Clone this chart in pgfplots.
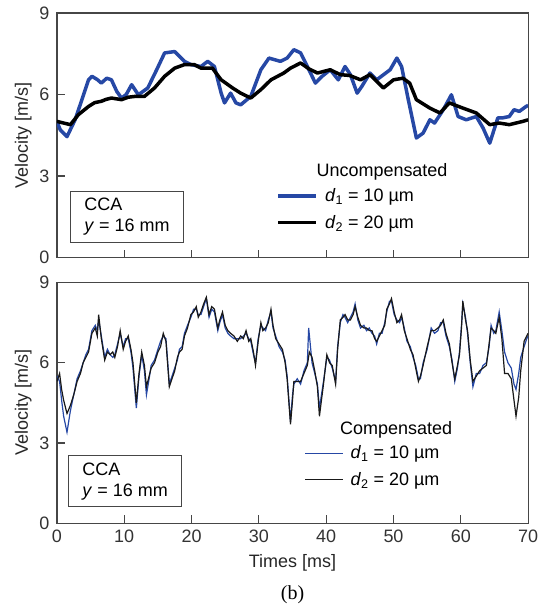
\documentclass[border=0pt]{standalone}
\usepackage{fontspec}
\setmainfont{Liberation Sans}
\newfontfamily\capfont{Liberation Serif}
\usepackage{pgfplots}
\pgfplotsset{compat=1.18}
\definecolor{dblue}{RGB}{38,72,165}
\definecolor{axgray}{RGB}{70,70,70}

\pgfplotsset{
  velax/.style={
    scale only axis, width=472pt,
    xmin=0, xmax=70, ymin=0, ymax=9,
    xtick={0,10,...,70}, ytick={0,3,6,9},
    xtick pos=bottom, ytick pos=left, tick align=inside,
    major tick length=8pt,
    axis line style={axgray, line width=1.2pt},
    tick style={axgray, line width=1.2pt},
    tick label style={font=\fontsize{18}{21}\selectfont, text=black!80},
    xticklabel style={yshift=-3pt},
    yticklabel style={xshift=-4pt},
    label style={font=\fontsize{18}{21}\selectfont, text=black!85},
    xlabel style={yshift=-5pt},
    ylabel style={yshift=1pt},
    /pgf/number format/assume math mode=true,
    ylabel={Velocity [m/s]},
    legend cell align=left,
    legend style={draw=none, fill=none, font=\fontsize{18}{21}\selectfont,
      row sep=8pt, column sep=5pt, inner sep=0pt},
    legend image code/.code={\draw[#1] (0pt,0pt) -- (38pt,0pt);},
  },
}

\begin{document}
\begin{tikzpicture}[font=\fontsize{18}{21}\selectfont]
% top: uncompensated
\begin{axis}[velax, name=top, height=245pt, at={(0,266pt)}, anchor=south west,
  xticklabels={},
  legend style={at={(rel axis cs:0.466,0.29)}, anchor=north west},
]
\addplot[dblue, line width=3.5pt, line join=round] coordinates {
(0,5.0) (0.5,4.7) (1.5,4.45) (2.7,5.07) (3.7,5.8) (4.7,6.54) (5.2,6.67) (6.0,6.55) (6.6,6.42) (7.4,6.6) (8.1,6.54) (8.9,6.11) (9.6,5.87) (10.3,6.0) (11.1,6.36) (12.1,5.99) (13.5,6.24) (14.8,6.9) (16.0,7.53) (17.5,7.58) (18.95,7.22) (19.9,7.10) (21.4,7.03) (22.4,7.22) (23.4,7.03) (24.4,6.05) (24.9,5.69) (25.8,6.05) (26.6,5.69) (27.3,5.62) (28.8,5.93) (30.3,6.91) (31.5,7.34) (33.2,7.22) (34.2,7.34) (35.2,7.65) (36.2,7.53) (37.2,7.03) (38.4,6.42) (39.4,6.67) (40.6,6.91) (41.8,6.54) (42.8,7.03) (43.6,6.73) (44.6,6.05) (45.3,6.30) (46.5,6.79) (47.5,6.54) (49.5,6.91) (50.5,7.34) (51.2,7.03) (52.2,5.81) (53.4,4.40) (54.4,4.58) (55.4,5.07) (56.1,4.95) (57.4,5.44) (58.6,5.99) (59.6,5.19) (60.8,5.07) (62.3,5.19) (63.3,4.77) (64.3,4.21) (65.5,5.14) (66.2,5.14) (67.2,5.19) (67.9,5.44) (68.7,5.38) (69.7,5.56) (70,5.6)
};
\addlegendentry{\textit{d}\textsubscript{1} = 10 µm}
\addplot[black, line width=3.5pt, line join=round] coordinates {
(0,5.01) (1,4.95) (2.0,4.89) (3.2,5.26) (4.7,5.56) (5.6,5.70) (6.6,5.75) (7.3,5.82) (8.1,5.87) (9.6,5.81) (10.6,5.90) (11.6,5.93) (13.0,5.93) (14.5,6.24) (16.0,6.67) (17.5,6.97) (18.95,7.10) (20.4,7.10) (21.4,6.97) (23.1,6.97) (24.4,6.54) (26.1,6.24) (27.3,6.05) (28.8,5.87) (30.3,6.18) (31.8,6.54) (33.7,6.79) (34.7,6.97) (36.2,7.16) (37.4,6.95) (38.7,6.79) (40.6,6.91) (42.1,6.73) (43.5,6.70) (45.1,6.54) (46.5,6.73) (48.5,6.24) (50.0,6.54) (51.4,6.60) (52.4,6.42) (53.4,5.81) (55.4,5.50) (56.9,5.32) (58.3,5.69) (60.3,5.50) (62.3,5.32) (64.3,4.89) (65.7,4.95) (67.2,4.89) (69.2,5.01) (70,5.07)
};
\addlegendentry{\textit{d}\textsubscript{2} = 20 µm}
\node[anchor=center] at (rel axis cs:0.69,0.35) {Uncompensated};
\node[draw=axgray, line width=1pt, anchor=south west, align=left,
  minimum width=113pt, minimum height=51pt, inner sep=6pt]
  at (rel axis cs:0.028,0.06) {CCA\\\textit{y} = 16 mm};
\end{axis}

% bottom: compensated
\begin{axis}[velax, name=bot, height=241pt, at={(0,0)}, anchor=south west,
  xlabel={Times [ms]},
  legend style={at={(rel axis cs:0.525,0.33)}, anchor=north west},
]
\addplot[dblue, line width=1.2pt] coordinates {
(0,5.5) (0.4,5.3) (0.7,4.6) (1.0,4.0) (1.5,3.4) (2.0,4.2) (2.5,4.8) (3.0,5.4) (3.5,5.7) (3.9,6.0) (4.3,6.3) (4.7,6.5) (5.2,7.2) (5.7,7.4) (6.0,7.2) (6.2,7.6) (6.6,7.0) (7.1,6.2) (7.5,6.5) (7.9,6.3) (8.3,6.2) (8.6,6.3) (9.0,6.7) (9.4,7.1) (9.85,6.6) (10.2,6.9) (10.6,6.9) (11.0,6.4) (11.3,5.8) (11.8,4.3) (12.2,5.5) (12.6,6.3) (13.0,5.7) (13.3,4.8) (13.7,5.4) (14.0,5.9) (14.5,6.1) (15.0,6.5) (15.4,6.8) (15.8,7.0) (16.2,6.9) (16.7,5.2) (17.1,5.5) (17.5,5.8) (17.9,6.1) (18.2,6.5) (18.6,6.6) (18.95,7.1) (19.4,7.4) (19.9,7.7) (20.3,8.0) (20.7,8.0) (21.0,7.8) (21.4,7.8) (21.8,8.1) (22.2,8.4) (22.6,7.7) (23.0,8.0) (23.4,7.9) (23.9,7.2) (24.2,7.5) (24.6,7.8) (25.0,7.3) (25.4,7.1) (25.8,7.0) (26.3,6.9) (26.8,6.9) (27.3,6.9) (27.7,7.0) (28.1,7.1) (28.5,6.9) (28.8,6.8) (29.2,6.3) (29.5,6.0) (29.9,6.9) (30.3,7.4) (30.6,7.3) (31.0,7.2) (31.4,7.6) (31.8,7.9) (32.1,7.3) (32.5,7.0) (33.0,6.6) (33.5,6.4) (33.9,6.1) (34.2,5.5) (34.7,3.8) (35.0,4.8) (35.2,5.2) (35.7,5.4) (36.2,5.2) (36.7,5.7) (37.2,6.0) (37.4,7.3) (37.9,6.0) (38.3,5.6) (38.7,5.2) (39.0,4.3) (39.3,4.8) (39.6,5.3) (40.1,6.2) (40.5,6.1) (40.9,5.8) (41.4,5.3) (41.7,6.6) (42.1,7.5) (42.5,7.8) (42.8,7.7) (43.2,7.5) (43.6,7.7) (44.0,7.9) (44.3,8.2) (44.7,7.6) (45.1,7.3) (45.6,7.4) (46.0,7.2) (46.4,7.3) (46.8,7.1) (47.2,7.0) (47.5,6.7) (47.9,7.1) (48.3,7.1) (48.7,7.5) (49.0,7.9) (49.4,8.3) (49.7,8.3) (50.1,7.8) (50.5,7.6) (50.9,7.5) (51.2,7.7) (51.6,7.3) (52.0,6.8) (52.5,6.6) (52.9,6.2) (53.3,5.9) (53.7,5.4) (54.0,5.4) (54.4,6.0) (55.0,6.5) (55.6,7.3) (56.1,7.1) (56.6,7.2) (57.0,7.5) (57.4,7.5) (57.8,7.0) (58.3,6.6) (58.7,6.1) (59.1,5.3) (59.5,5.8) (59.8,6.4) (60.1,7.4) (60.3,8.2) (60.7,7.7) (61.0,7.1) (61.4,6.0) (61.8,5.1) (62.3,5.6) (62.8,5.6) (63.3,5.9) (63.8,6.0) (64.2,6.6) (64.5,7.4) (64.9,7.1) (65.2,7.2) (65.7,7.9) (66.1,7.2) (66.5,6.4) (67.0,6.0) (67.5,5.8) (67.9,5.2) (68.2,5.0) (68.6,5.6) (68.9,6.2) (69.4,6.6) (69.8,6.9) (70,7.0)
};
\addlegendentry{\textit{d}\textsubscript{1} = 10 µm}
\addplot[black!90, line width=1.2pt] coordinates {
(0,5.3) (0.4,5.6) (0.7,5.0) (1.0,4.6) (1.5,4.1) (2.0,4.4) (2.5,4.8) (3.0,5.3) (3.5,5.6) (3.9,6.0) (4.3,6.2) (4.7,6.4) (5.2,7.1) (5.7,7.3) (6.0,7.0) (6.2,7.8) (6.6,6.9) (7.1,6.1) (7.5,6.4) (7.9,6.3) (8.3,6.4) (8.6,6.2) (9.0,6.6) (9.4,7.2) (9.85,6.5) (10.2,6.8) (10.6,7.0) (11.0,6.5) (11.3,6.0) (11.8,4.5) (12.2,5.6) (12.6,6.4) (13.0,5.9) (13.3,5.1) (13.7,5.5) (14.0,5.8) (14.5,6.0) (15.0,6.4) (15.4,6.6) (15.8,7.1) (16.2,6.8) (16.7,5.1) (17.1,5.4) (17.5,5.7) (17.9,6.2) (18.2,6.4) (18.6,6.5) (18.95,7.0) (19.4,7.3) (19.9,7.8) (20.3,7.9) (20.7,8.1) (21.0,7.7) (21.4,7.9) (21.8,8.2) (22.2,8.45) (22.6,7.8) (23.0,8.1) (23.4,8.0) (23.9,7.3) (24.2,7.6) (24.6,7.9) (25.0,7.4) (25.4,7.2) (25.8,7.1) (26.3,7.0) (26.8,6.8) (27.3,7.0) (27.7,6.9) (28.1,7.2) (28.5,6.8) (28.8,6.9) (29.2,6.4) (29.5,5.9) (29.9,6.8) (30.3,7.5) (30.6,7.2) (31.0,7.3) (31.4,7.5) (31.8,8.0) (32.1,7.4) (32.5,6.9) (33.0,6.7) (33.5,6.5) (33.9,6.0) (34.2,5.4) (34.7,3.7) (35.0,4.6) (35.2,5.3) (35.7,5.3) (36.2,5.3) (36.7,5.6) (37.2,5.9) (37.5,6.4) (37.9,6.2) (38.3,5.7) (38.7,5.1) (39.0,4.0) (39.3,4.6) (39.6,5.2) (40.1,6.3) (40.5,6.0) (40.9,5.9) (41.4,5.2) (41.7,6.5) (42.1,7.6) (42.5,7.7) (42.8,7.8) (43.2,7.6) (43.6,7.6) (44.0,7.8) (44.3,8.1) (44.7,7.7) (45.1,7.4) (45.6,7.3) (46.0,7.3) (46.4,7.2) (46.8,7.2) (47.2,6.9) (47.5,6.8) (47.9,7.0) (48.3,7.2) (48.7,7.4) (49.0,8.0) (49.4,8.2) (49.7,8.4) (50.1,7.9) (50.5,7.5) (50.9,7.6) (51.2,7.8) (51.6,7.2) (52.0,6.9) (52.5,6.5) (52.9,6.3) (53.3,5.8) (53.7,5.3) (54.0,5.5) (54.4,5.9) (55.0,6.6) (55.6,7.2) (56.1,7.2) (56.6,7.3) (57.0,7.4) (57.4,7.6) (57.8,7.1) (58.3,6.7) (58.7,6.0) (59.1,5.4) (59.5,5.9) (59.8,6.3) (60.1,7.3) (60.3,8.3) (60.7,7.6) (61.0,7.2) (61.4,6.1) (61.8,5.3) (62.3,5.5) (62.8,5.7) (63.3,5.8) (63.8,5.9) (64.2,6.7) (64.5,7.3) (64.9,7.2) (65.2,7.1) (65.7,7.7) (66.1,6.9) (66.5,5.6) (67.0,5.6) (67.5,5.4) (67.9,4.6) (68.2,4.0) (68.6,4.7) (68.9,5.7) (69.4,6.8) (69.8,7.0) (70,7.1)
};
\addlegendentry{\textit{d}\textsubscript{2} = 20 µm}
\node[anchor=center] at (rel axis cs:0.72,0.386) {Compensated};
\node[draw=axgray, line width=1pt, anchor=south west, align=left,
  minimum width=113pt, minimum height=51pt, inner sep=6pt]
  at (rel axis cs:0.024,0.066) {CCA\\\textit{y} = 16 mm};
\end{axis}
\path (bot.south) ++(0,-72pt) node[font=\capfont\fontsize{20}{24}\selectfont] {(b)};
\pgfresetboundingbox
\path (bot.south west) ++(-57pt,-84pt) coordinate (bbll);
\path (top.north east) ++(12pt,13pt) coordinate (bbur);
\path[use as bounding box] (bbll) rectangle (bbur);
\end{tikzpicture}
\end{document}
